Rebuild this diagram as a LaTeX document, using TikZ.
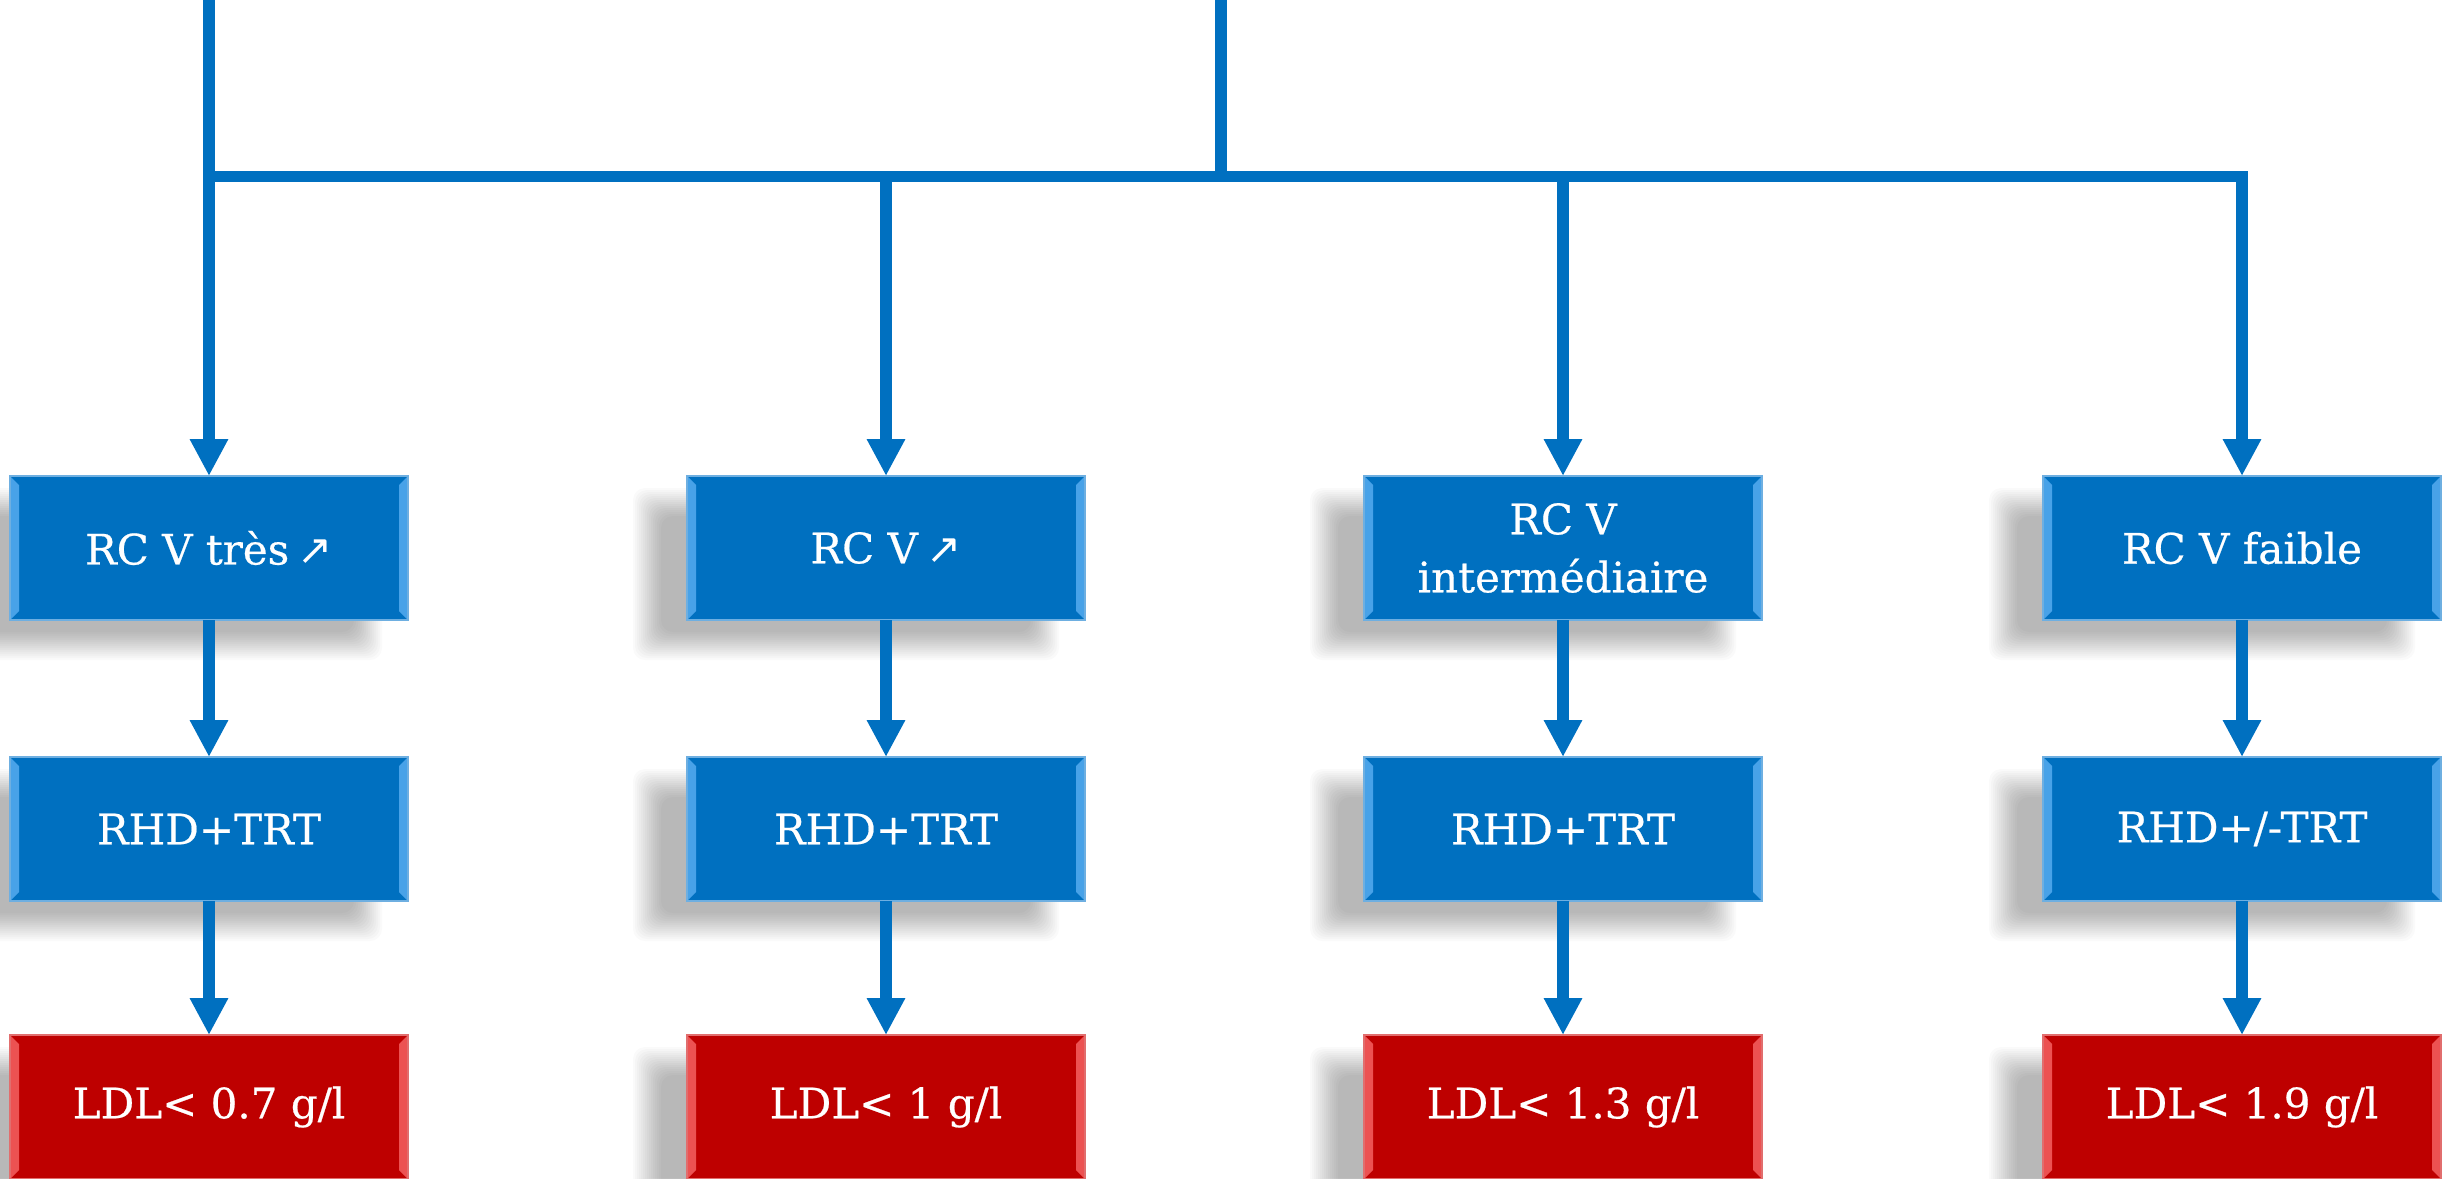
\documentclass[tikz,border=0pt]{standalone}
\usepackage{fontspec}
\setmainfont{DejaVu Serif}
\newfontfamily\boxfont{DejaVu Serif}[FakeBold=0.5]
\newfontfamily\arrowfont{DejaVu Sans}
\usetikzlibrary{arrows.meta}
\definecolor{boxblue}{RGB}{0,112,192}
\definecolor{bevblue}{RGB}{72,162,232}
\definecolor{edgeblue}{RGB}{110,175,225}
\definecolor{boxred}{RGB}{190,0,0}
\definecolor{bevred}{RGB}{236,82,82}
\definecolor{edgered}{RGB}{225,110,110}
\pgfdeclarelayer{bglayer}
\pgfdeclarelayer{shadowlayer}
\pgfsetlayers{bglayer,shadowlayer,main}
\tikzset{
  bevel/.style={path picture={
    \fill[#1] (path picture bounding box.north west) -- ++(9pt,-9pt)
      -- ([shift={(9pt,9pt)}]path picture bounding box.south west)
      -- (path picture bounding box.south west) -- cycle;
    \fill[#1] (path picture bounding box.north east) -- ++(-9pt,-9pt)
      -- ([shift={(-9pt,9pt)}]path picture bounding box.south east)
      -- (path picture bounding box.south east) -- cycle;
  }},
  box/.style={rectangle, minimum width=398pt, minimum height=144pt,
    inner sep=0pt, outer sep=0pt, text=white, align=center,
    font=\fontsize{42pt}{58pt}\boxfont, line width=1.5pt},
  bluebox/.style={box, fill=boxblue, draw=edgeblue, bevel=bevblue},
  redbox/.style={box, fill=boxred, draw=edgered, bevel=bevred},
  conn/.style={draw=boxblue, line width=11.5pt},
  arr/.style={conn, -{Triangle[width=36pt,length=37pt]}},
  softshadow/.style={fill=black, fill opacity=0.021, draw=none},
}
\begin{document}
\begin{tikzpicture}[x=1pt,y=-1pt]
\begin{pgfonlayer}{bglayer}
\fill[white] (0,0) rectangle (2447,1178);
\end{pgfonlayer}
\useasboundingbox (0,0) rectangle (2447,1178);

\node[bluebox] (a1) at (209,548) {RC V très\hspace{0.2em}{\arrowfont ↗}};
\node[bluebox] (b1) at (886,548) {RC V\hspace{0.2em}{\arrowfont ↗}};
\node[bluebox] (c1) at (1563,548) {RC V\\intermédiaire};
\node[bluebox] (d1) at (2242,548) {RC V faible};

\node[bluebox] (a2) at (209,829) {RHD+TRT};
\node[bluebox] (b2) at (886,829) {RHD+TRT};
\node[bluebox] (c2) at (1563,829) {RHD+TRT};
\node[bluebox] (d2) at (2242,829) {RHD+/-TRT};

\node[redbox] (a3) at (209,1107) {LDL< 0.7 g/l};
\node[redbox] (b3) at (886,1107) {LDL< 1 g/l};
\node[redbox] (c3) at (1563,1107) {LDL< 1.3 g/l};
\node[redbox] (d3) at (2242,1107) {LDL< 1.9 g/l};

\begin{pgfonlayer}{shadowlayer}
\foreach \n in {a1,b1,c1,d1,a2,b2,c2,d2,a3,b3,c3,d3}{
  \foreach \k in {0,...,14}{
    \pgfmathsetmacro{\ins}{-14+2*\k}
    \fill[softshadow, rounded corners=12pt]
      ([shift={(-40pt+\ins pt,-26pt-\ins pt)}]\n.north west) rectangle
      ([shift={(-40pt-\ins pt,-26pt+\ins pt)}]\n.south east);
  }
}
\end{pgfonlayer}

\coordinate (tl) at (209,0);
\coordinate (tc) at (1221,0);
\coordinate (j) at (1221,176.5);

\draw[conn] (tc) -- (j);
\draw[arr] (tl) -- (a1.north);
\draw[arr, line join=miter] (a1.north |- j) -- (d1.north |- j) -- (d1.north);
\draw[arr] (b1.north |- j) -- (b1.north);
\draw[arr] (c1.north |- j) -- (c1.north);

\foreach \n in {a,b,c,d}{
  \draw[arr] (\n1.south) -- (\n2.north);
  \draw[arr] (\n2.south) -- (\n3.north);
}
\end{tikzpicture}
\end{document}
